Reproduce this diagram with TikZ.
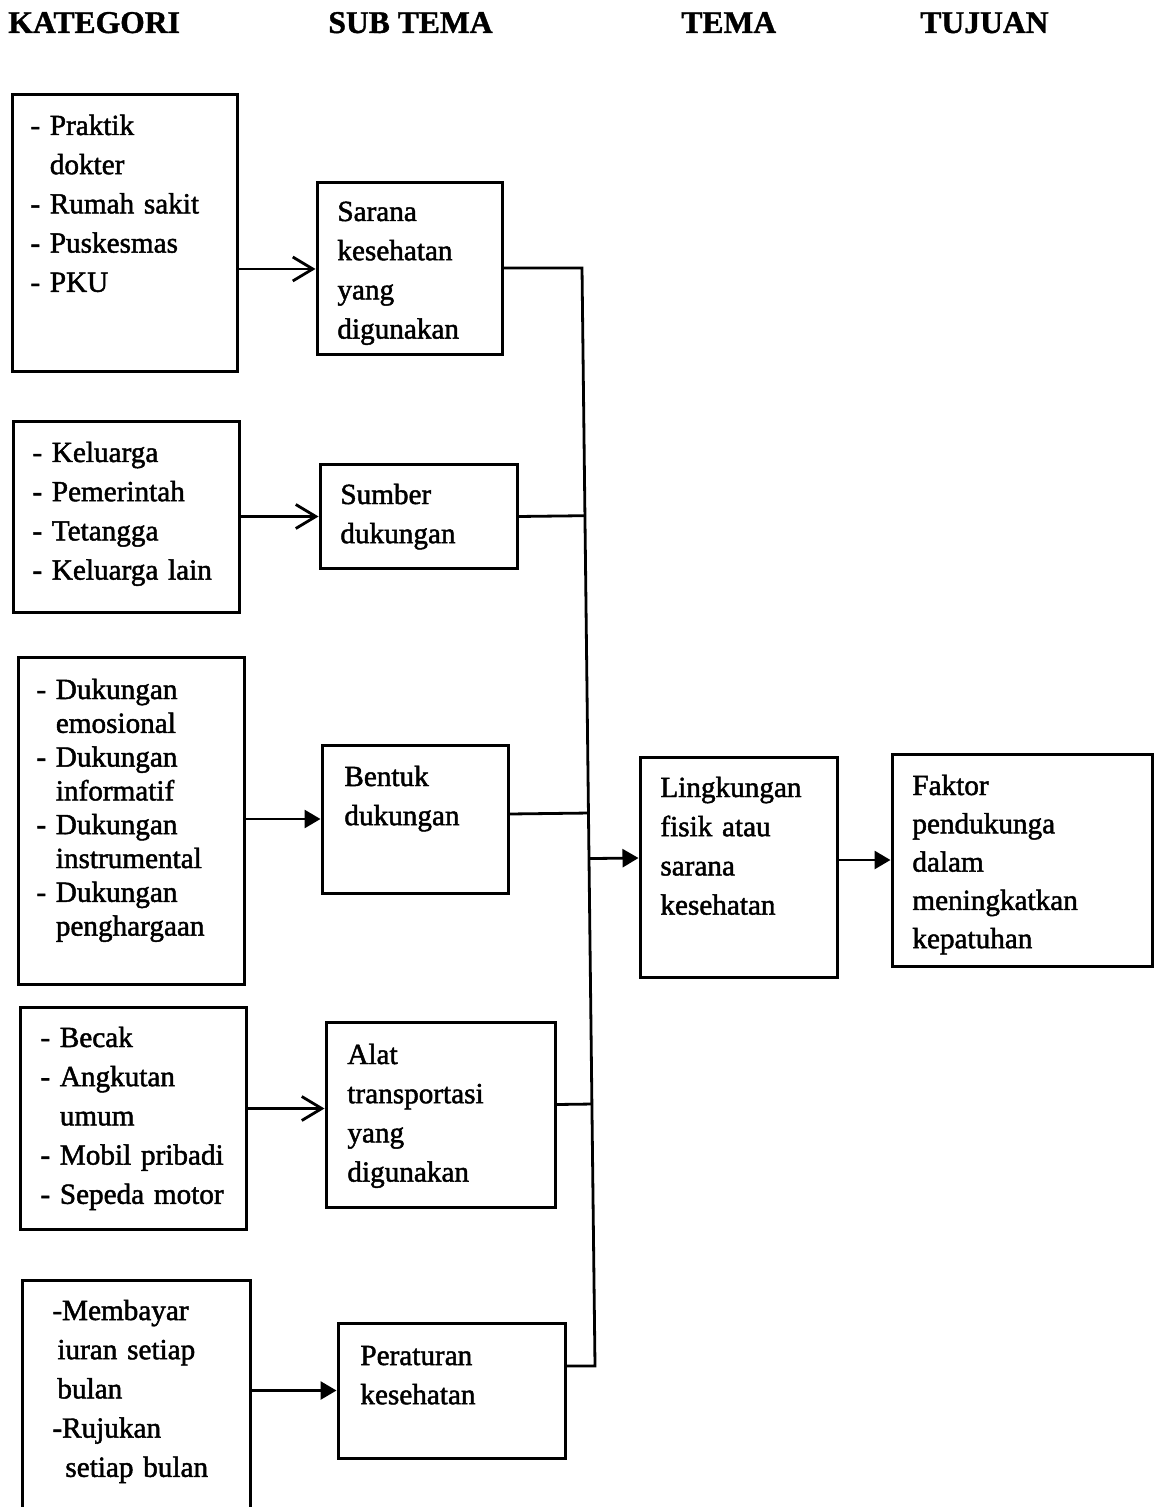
\documentclass[tikz,border=0pt]{standalone}
\usepackage{fontspec}
\setmainfont{Liberation Serif}
\newfontfamily\bodyfont{Liberation Serif}[FakeBold=1.6]
\newfontfamily\headfont{Liberation Serif Bold}[FakeBold=1.2]
\usetikzlibrary{arrows.meta,calc,fit}

\begin{document}
\begin{tikzpicture}[
    x=0.5pt, y=-0.5pt,
    box/.style={draw, line width=1.5pt, inner sep=0pt, rectangle},
    txt/.style={anchor=base west, inner sep=0pt, text width=130pt, align=left,
                font=\bodyfont\fontsize{14.6}{19.6}\selectfont},
    tight/.style={font=\bodyfont\fontsize{14.6}{16.9}\selectfont},
    head/.style={anchor=base west, inner sep=0pt, font=\headfont\fontsize{15.8}{18}\selectfont},
    ln/.style={line width=1.4pt},
    open/.style={ln, -{Straight Barb[length=10pt, width=12pt]}},
    solid/.style={ln, -{Triangle[length=8pt, width=9pt]}},
  ]
  \useasboundingbox (0,0) rectangle (1158,1507);
  \fill[white] (0,0) rectangle (1158,1507);
  \clip (0,0) rectangle (1158,1507);

  % column headings
  \node[head] (h1) at (8,33)   {KATEGORI};
  \node[head] (h2) at (328,33) {SUB TEMA};
  \node[head] (h3) at (681,33) {TEMA};
  \node[head] (h4) at (920,33) {TUJUAN};

  % category boxes
  \node[box, fit={(12,95) (237,372)}]    (k1) {};
  \node[box, fit={(13,422) (239,612)}]   (k2) {};
  \node[box, fit={(18,657) (244,984)}]   (k3) {};
  \node[box, fit={(20,1007) (246,1229)}] (k4) {};
  \node[box, fit={(22,1280) (250,1540)}] (k5) {};

  \node[txt] (k1t) at (30,135) {- Praktik\\\hphantom{- }dokter\\- Rumah sakit\\- Puskesmas\\- PKU};
  \node[txt] (k2t) at (32,462) {- Keluarga\\- Pemerintah\\- Tetangga\\- Keluarga lain};
  \node[txt, tight] (k3t) at (36,699) {- Dukungan\\\hphantom{- }emosional\\- Dukungan\\\hphantom{- }informatif\\- Dukungan\\\hphantom{- }instrumental\\- Dukungan\\\hphantom{- }penghargaan};
  \node[txt] (k4t) at (40,1047) {- Becak\\- Angkutan\\\hphantom{- }umum\\- Mobil pribadi\\- Sepeda motor};
  \node[txt] (k5t) at (52,1320) {-Membayar\\\hspace{2.5pt}iuran setiap\\\hspace{2.5pt}bulan\\-Rujukan\\\hspace{6.5pt}setiap bulan};

  % sub-theme boxes
  \node[box, fit={(317,183) (502,355)}]  (s1) {};
  \node[box, fit={(320,465) (517,568)}]  (s2) {};
  \node[box, fit={(322,745) (508,893)}]  (s3) {};
  \node[box, fit={(326,1022) (555,1207)}] (s4) {};
  \node[box, fit={(338,1323) (565,1458)}] (s5) {};

  \node[txt] (s1t) at (337,221)  {Sarana\\kesehatan\\yang\\digunakan};
  \node[txt] (s2t) at (340,504)  {Sumber\\dukungan};
  \node[txt] (s3t) at (344,786)  {Bentuk\\dukungan};
  \node[txt] (s4t) at (347,1064) {Alat\\transportasi\\yang\\digunakan};
  \node[txt] (s5t) at (360,1365) {Peraturan\\kesehatan};

  % theme and goal boxes
  \node[box, fit={(640,757) (837,977)}]  (t) {};
  \node[box, fit={(892,754) (1152,966)}] (g) {};
  \node[txt] (tt) at (660,797) {Lingkungan\\fisik atau\\sarana\\kesehatan};
  \node[txt, font=\bodyfont\fontsize{14.6}{19.15}\selectfont] (gt) at (912,795) {Faktor\\pendukunga\\dalam\\meningkatkan\\kepatuhan};

  % category -> sub-theme
  \draw[open]  (k1.east |- s1.west) -- (s1.west);
  \draw[open]  (k2.east |- s2.west) -- (s2.west);
  \draw[solid] (k3.east |- s3.west) -- (s3.west);
  \coordinate (s4in) at ([yshift=3pt]s4.west);
  \draw[open]  (k4.east |- s4in) -- (s4in);
  \draw[solid] (k5.east |- s5.west) -- (s5.west);

  % collecting line on the right of the sub-themes
  \coordinate (ttop) at (582,268);
  \coordinate (tbot) at (595,1366);
  \coordinate (s3out) at ([yshift=2.5pt]s3.east);
  \coordinate (s4out) at ([yshift=5pt]s4.east);
  \draw[ln] (s1.east |- ttop) -- (ttop) -- (tbot) -- (s5.east |- tbot);
  \draw[ln] (s2.east) -- ($(ttop)!(s2.east)!(tbot)$);
  \draw[ln] (s3out) -- ($(ttop)!(s3out)!(tbot)$);
  \draw[ln] (s4out) -- ($(ttop)!(s4out)!(tbot)$);

  % sub-themes -> theme -> goal
  \coordinate (tin) at ([yshift=4.5pt]t.west);
  \draw[solid] ($(ttop)!(tin)!(tbot)$) -- (tin);
  \draw[solid] (t.east |- g.west) -- (g.west);
\end{tikzpicture}
\end{document}
